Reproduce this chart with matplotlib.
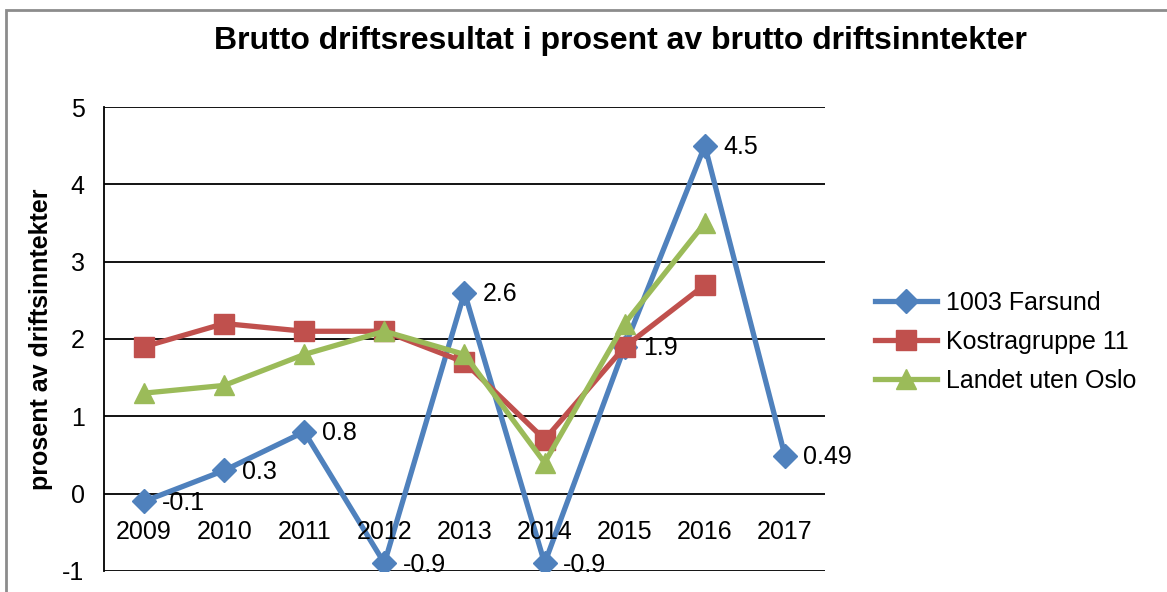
import matplotlib.pyplot as plt
from matplotlib.patches import Rectangle

years = ["2009", "2010", "2011", "2012", "2013", "2014", "2015", "2016", "2017"]
farsund = [-0.1, 0.3, 0.8, -0.9, 2.6, -0.9, 1.9, 4.5, 0.49]
farsund_labels = ["-0.1", "0.3", "0.8", "-0.9", "2.6", "-0.9", "1.9", "4.5", "0.49"]
kostra = [1.9, 2.2, 2.1, 2.1, 1.7, 0.7, 1.9, 2.7]
landet = [1.3, 1.4, 1.8, 2.1, 1.8, 0.4, 2.2, 3.5]

plt.rcParams["font.family"] = ["Liberation Sans", "DejaVu Sans"]
plt.rcParams["axes.unicode_minus"] = False

fig = plt.figure(figsize=(11.67, 5.92), dpi=100)
ax = fig.add_axes([104 / 1167, 1 - 571 / 592, (825 - 104) / 1167, (571 - 107) / 592])

# ramme rundt diagrammet
fig.patches.append(Rectangle((6 / 1167, -0.1), 1.2, 1 - 10 / 592 + 0.1,
                             transform=fig.transFigure, fill=False,
                             edgecolor="#8c8c8c", linewidth=2))

x = list(range(len(years)))
ax.plot(x, farsund, color="#4F81BD", lw=3.8, marker="D", ms=12, label="1003 Farsund", zorder=3)
ax.plot(x[:len(kostra)], kostra, color="#C0504D", lw=3.8, marker="s", ms=14, label="Kostragruppe 11", zorder=4)
ax.plot(x[:len(landet)], landet, color="#9BBB59", lw=3.8, marker="^", ms=15, label="Landet uten Oslo", zorder=5)

for xi, yi, t in zip(x, farsund, farsund_labels):
    ax.annotate(t, (xi, yi), xytext=(13, -1), textcoords="offset points",
                va="center", ha="left", fontsize=18, zorder=6)

ax.set_xlim(-0.5, 8.5)
ax.set_ylim(-1, 5)
ax.set_yticks(range(-1, 6))
ax.yaxis.grid(True, color="black", lw=1.3)
ax.set_axisbelow(True)
for s in ["top", "right", "bottom"]:
    ax.spines[s].set_visible(False)
ax.spines["left"].set_linewidth(1.3)
ax.tick_params(axis="y", length=0, labelsize=18, pad=14)
ax.set_xticks([])

# kategorietiketter under 0-linjen
for xi, yr in zip(x, years):
    ax.text(xi, -0.49, yr, ha="center", va="center", fontsize=18)

ax.set_ylabel("prosent av driftsinntekter", fontsize=18, fontweight="bold", labelpad=7)
fig.text(620 / 1167, 1 - 41 / 592, "Brutto driftsresultat i prosent av brutto driftsinntekter",
         ha="center", va="center", fontsize=23, fontweight="bold")

ax.legend(loc="center left", bbox_to_anchor=(862 / 1167, 1 - 342 / 592),
          bbox_transform=fig.transFigure, frameon=False, fontsize=18,
          handlelength=2.5, handletextpad=0.35, labelspacing=0.6, borderpad=0)

fig.savefig("out.png", dpi=100)
